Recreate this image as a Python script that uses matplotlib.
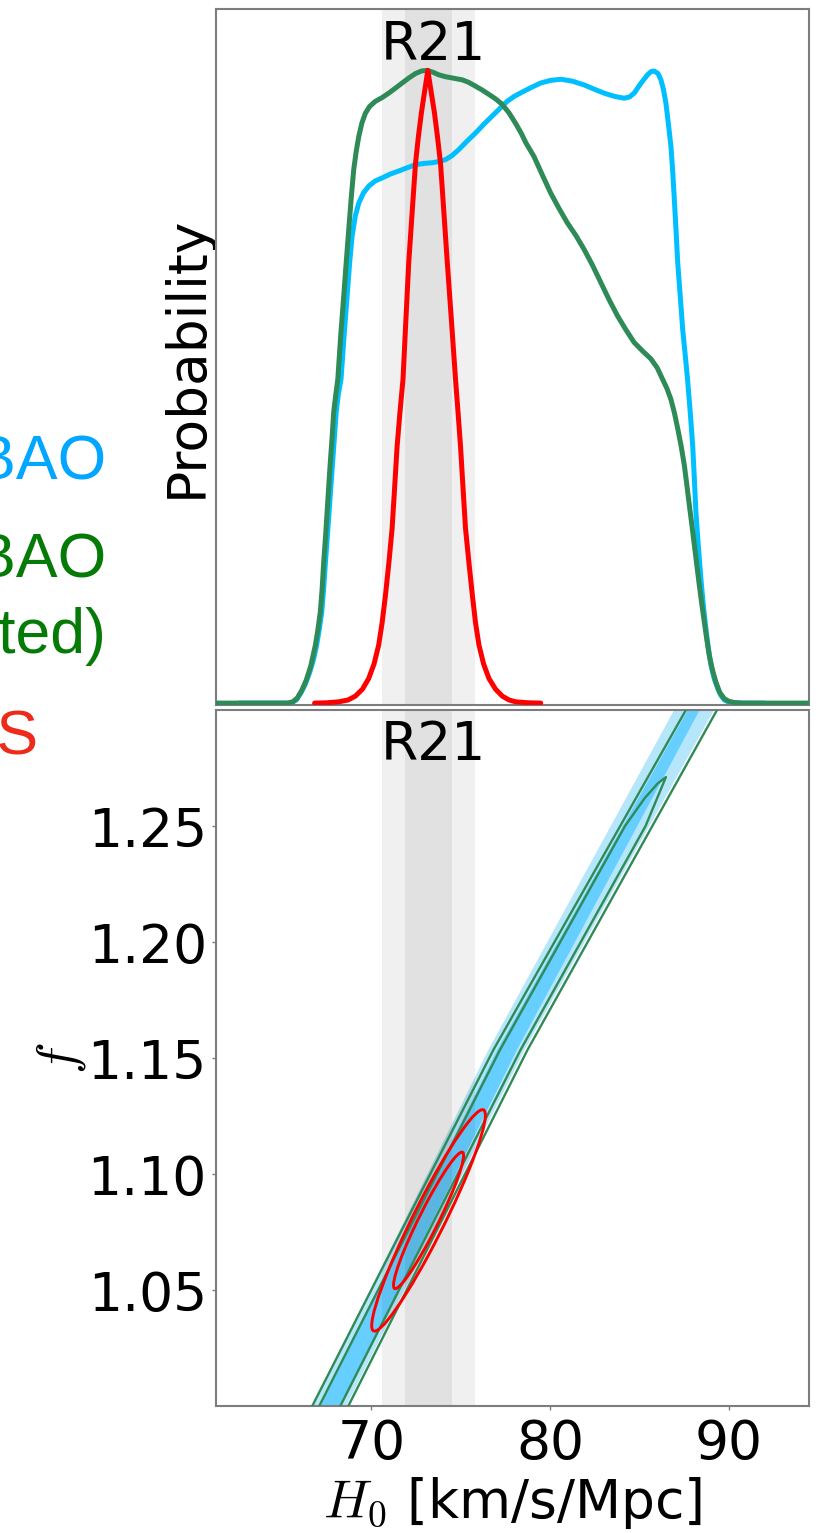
import numpy as np
import matplotlib
matplotlib.use("Agg")
import matplotlib.pyplot as plt
import matplotlib.transforms as mtransforms
from matplotlib.patches import Ellipse

plt.rcParams["mathtext.fontset"] = "cm"
plt.rcParams["font.family"] = ["DejaVu Sans"]

# ------------------------------------------------------------------ data
# 1D marginal posteriors of H0 (peak-normalised)
h0_cyan = [62.6, 65.5, 65.8, 66.05, 66.3, 66.55, 66.75, 66.93, 67.08, 67.22, 67.33,
           67.43, 67.53, 67.63, 67.73, 67.83, 67.93, 68.03, 68.15, 68.3, 68.47, 68.64,
           68.78, 68.92, 69.1, 69.29, 69.55, 69.85, 70.2, 70.6, 71.05, 71.53, 72.0,
           72.47, 72.95, 73.4, 73.8, 74.15, 74.5, 74.9, 75.35, 75.83, 76.3, 76.77,
           77.2, 77.6, 78.0, 78.4, 78.95, 79.48, 80.0, 80.6, 81.25, 81.91, 82.5,
           83.03, 83.6, 84.15, 84.45, 84.71, 85.1, 85.46, 85.65, 85.83, 86.05, 86.21,
           86.35, 86.49, 86.63, 86.77, 86.87, 86.95, 87.05, 87.15, 87.3, 87.43, 87.57,
           87.7, 87.85, 87.99, 88.08, 88.17, 88.3, 88.45, 88.6, 88.73, 88.87, 89.01,
           89.2, 89.39, 89.57, 89.76, 90.0, 90.3, 92.0]
p_cyan = [0.0, 0.0, 0.005, 0.016, 0.03, 0.049, 0.068, 0.091, 0.116, 0.144, 0.182,
          0.223, 0.262, 0.302, 0.342, 0.381, 0.42, 0.46, 0.488, 0.512, 0.58, 0.643,
          0.695, 0.738, 0.77, 0.79, 0.806, 0.817, 0.825, 0.83, 0.836, 0.841, 0.846,
          0.851, 0.853, 0.854, 0.856, 0.859, 0.865, 0.875, 0.888, 0.901, 0.915, 0.928,
          0.94, 0.951, 0.959, 0.965, 0.973, 0.98, 0.984, 0.986, 0.983, 0.977, 0.97,
          0.964, 0.959, 0.956, 0.958, 0.964, 0.98, 0.993, 0.998, 0.999, 0.995, 0.985,
          0.97, 0.948, 0.915, 0.88, 0.84, 0.801, 0.75, 0.696, 0.64, 0.59, 0.55,
          0.512, 0.46, 0.406, 0.355, 0.301, 0.25, 0.196, 0.15, 0.117, 0.086, 0.06,
          0.038, 0.023, 0.012, 0.005, 0.0015, 0.0, 0.0]

h0_green = [61.0, 65.3, 65.6, 65.85, 66.1, 66.35, 66.6, 66.86, 67.0, 67.14, 67.24,
            67.33, 67.43, 67.52, 67.61, 67.7, 67.8, 67.89, 68.0, 68.12, 68.28, 68.45,
            68.6, 68.73, 68.87, 69.01, 69.15, 69.29, 69.47, 69.66, 69.9, 70.22, 70.6,
            70.97, 71.35, 71.72, 72.1, 72.47, 72.8, 73.12, 73.45, 73.77, 74.15, 74.53,
            75.09, 75.45, 75.83, 76.2, 76.58, 76.95, 77.3, 77.7, 78.1, 78.4, 78.64,
            79.1, 79.55, 80.04, 80.5, 80.97, 81.45, 81.91, 82.38, 82.84, 83.3, 83.78,
            84.25, 84.71, 85.2, 85.65, 86.0, 86.3, 86.55, 86.77, 86.97, 87.15, 87.35,
            87.52, 87.66, 87.8, 87.94, 88.08, 88.22, 88.36, 88.5, 88.64, 88.78, 88.92,
            89.1, 89.29, 89.5, 89.76, 90.0, 90.3, 90.8, 95.0]
p_green = [0.0, 0.0, 0.002, 0.008, 0.02, 0.036, 0.058, 0.091, 0.115, 0.144, 0.18,
           0.223, 0.262, 0.302, 0.342, 0.381, 0.42, 0.46, 0.486, 0.512, 0.58, 0.643,
           0.7, 0.748, 0.798, 0.843, 0.872, 0.895, 0.917, 0.932, 0.943, 0.951, 0.957,
           0.964, 0.972, 0.98, 0.988, 0.995, 0.999, 1.0, 0.997, 0.993, 0.99, 0.988,
           0.985, 0.981, 0.975, 0.969, 0.962, 0.955, 0.947, 0.933, 0.915, 0.9, 0.886,
           0.864, 0.836, 0.806, 0.782, 0.759, 0.739, 0.717, 0.692, 0.665, 0.638, 0.612,
           0.59, 0.57, 0.556, 0.544, 0.53, 0.512, 0.497, 0.48, 0.458, 0.434, 0.405,
           0.376, 0.345, 0.313, 0.282, 0.25, 0.218, 0.186, 0.156, 0.128, 0.1, 0.075,
           0.052, 0.033, 0.017, 0.007, 0.003, 0.001, 0.0, 0.0]

h0_red = [66.82, 67.5, 68.17, 68.7, 69.1, 69.5, 69.85, 70.15, 70.41, 70.6, 70.79,
          70.98, 71.16, 71.3, 71.44, 71.6, 71.77, 71.93, 72.09, 72.28, 72.47, 72.63,
          72.8, 72.98, 73.16, 73.34, 73.53, 73.7, 73.87, 74.06, 74.25, 74.48, 74.71,
          74.85, 74.99, 75.13, 75.27, 75.46, 75.65, 75.83, 76.02, 76.28, 76.58, 76.95,
          77.33, 77.7, 78.08, 78.8, 79.48]
p_red = [0.0, 0.0005, 0.002, 0.005, 0.011, 0.022, 0.039, 0.062, 0.092, 0.127, 0.171,
         0.222, 0.276, 0.34, 0.406, 0.46, 0.512, 0.605, 0.696, 0.775, 0.853, 0.895,
         0.933, 0.967, 1.0, 0.967, 0.933, 0.895, 0.853, 0.775, 0.696, 0.605, 0.512,
         0.46, 0.406, 0.34, 0.276, 0.222, 0.171, 0.127, 0.092, 0.062, 0.039, 0.022,
         0.011, 0.005, 0.002, 0.0005, 0.0]

# R21 local measurement
r21_mean = 73.2
r21_sigma = 1.3

# 2D credible regions: H0 edges of the narrow H0-f bands at given f
band_f = [1.0, 1.1535, 1.3]
cyan95_left = [66.75, 76.55, 86.95]
cyan95_right = [68.60, 78.57, 89.18]
cyan68_left = [67.15, 77.05, 87.72]
cyan68_right = [68.30, 78.15, 88.38]
green95_left = [66.69, 76.83, 87.61]
green95_right = [68.71, 78.74, 89.35]
green68_f = [1.0, 1.1535, 1.25, 1.262, 1.2685, 1.2711, 1.25, 1.1535, 1.0]
green68_h0 = [67.08, 77.20, 84.2, 85.3, 86.05, 86.49, 85.35, 78.35, 68.26]

# red (local) Gaussian posterior in (H0, f)
red_mean = (73.2, 1.080)
red_sigma = (1.3, 0.0195)
red_rho = 0.95
red_levels = [0.68, 0.95]

# labels
legend_labels = ["SN + BAO", "SN + BAO", "(weighted)", "SH0ES"]
legend_colors = ["#00A6FF", "#067A06", "#067A06", "#EE2A1B"]
y_ticks = [1.05, 1.10, 1.15, 1.20, 1.25]
x_ticks = [70, 80, 90]

# ------------------------------------------------------------------ figure
W, H = 821, 1533
fig = plt.figure(figsize=(W / 100, H / 100), dpi=100)


def box(l, t, r, b):
    return [l / W, 1 - b / H, (r - l) / W, (b - t) / H]


ax1 = fig.add_axes(box(216, 9, 809, 705))
ax2 = fig.add_axes(box(216, 710, 809, 1406))

xlim = (61.3, 94.5)
FS = 38.5
spine_c = "#7d7d7d"

# ---------------- top panel
for lo, hi in [(r21_mean - 2 * r21_sigma, r21_mean + 2 * r21_sigma),
               (r21_mean - r21_sigma, r21_mean + r21_sigma)]:
    ax1.axvspan(lo, hi, color="k", alpha=0.06, lw=0, zorder=0.5)

lkw = dict(lw=3.6, solid_joinstyle="round", solid_capstyle="round")
ax1.plot(h0_cyan, p_cyan, color="#00BFFF", zorder=2, **lkw)
ax1.plot(h0_green, p_green, color="#2E8B57", zorder=3, **lkw)
ax1.plot(h0_red, p_red, color="red", zorder=4, **lkw)
ax1.set_xlim(*xlim)
ax1.set_ylim(-0.003, 1.097)
ax1.set_xticks([])
ax1.set_yticks([])
ax1.set_ylabel("Probability", fontsize=FS)
ax1.yaxis.set_label_coords(-0.006, 0.5)
tr1 = mtransforms.blended_transform_factory(ax1.transData, ax1.transAxes)
ax1.text(73.5, 0.927, "R21", transform=tr1, ha="center", va="baseline", fontsize=FS)

# ---------------- bottom panel
ax2.fill(cyan95_left + cyan95_right[::-1], band_f + band_f[::-1],
         color="#B6E6FA", lw=0, zorder=1)
ax2.fill(cyan68_left + cyan68_right[::-1], band_f + band_f[::-1],
         color="#66CFFF", lw=0, zorder=1.1)
for lo, hi in [(r21_mean - 2 * r21_sigma, r21_mean + 2 * r21_sigma),
               (r21_mean - r21_sigma, r21_mean + r21_sigma)]:
    ax2.axvspan(lo, hi, color="k", alpha=0.06, lw=0, zorder=1.5)

gkw = dict(color="#2E8B57", lw=1.7, zorder=3, solid_joinstyle="round")
ax2.plot(green95_left, band_f, **gkw)
ax2.plot(green95_right, band_f, **gkw)
ax2.plot(green68_h0, green68_f, **gkw)

sx, sf = red_sigma
cov = np.array([[sx ** 2, red_rho * sx * sf], [red_rho * sx * sf, sf ** 2]])
vals, vecs = np.linalg.eigh(cov)
order = vals.argsort()[::-1]
vals, vecs = vals[order], vecs[:, order]
angle = np.degrees(np.arctan2(vecs[1, 0], vecs[0, 0]))
for lev in red_levels:
    k = np.sqrt(-2 * np.log(1 - lev))
    ax2.add_patch(Ellipse(red_mean, 2 * k * np.sqrt(vals[0]), 2 * k * np.sqrt(vals[1]),
                          angle=angle, fill=False, ec="red", lw=2.1, zorder=4))

ax2.set_xlim(*xlim)
ax2.set_ylim(1.0, 1.3)
ax2.set_xticks(x_ticks)
ax2.set_yticks(y_ticks)
ax2.set_yticklabels([f"{v:.2f}" for v in y_ticks])
ax2.tick_params(axis="both", direction="out", length=2.6, width=1.0, color=spine_c,
                labelsize=FS)
ax2.tick_params(axis="y", pad=4)
ax2.tick_params(axis="x", pad=6)
ax2.set_xlabel(r"$H_0$ [km/s/Mpc]", fontsize=FS)
ax2.xaxis.set_label_coords(0.5, -0.161)
ax2.xaxis.label.set_va("baseline")
ax2.set_ylabel(r"$f$", fontsize=FS)
ax2.yaxis.label.set_va("center")
ax2.yaxis.set_label_coords(-0.262, 0.5)
tr2 = mtransforms.blended_transform_factory(ax2.transData, ax2.transAxes)
ax2.text(73.5, 0.928, "R21", transform=tr2, ha="center", va="baseline", fontsize=FS)

for ax in (ax1, ax2):
    for s in ax.spines.values():
        s.set_color(spine_c)
        s.set_linewidth(1.5)

# ---------------- side labels (partly outside the figure, as in the source)
label_pos = [(106, 480), (106, 578), (106, 653), (38, 755)]
for txt, col, (px, py) in zip(legend_labels, legend_colors, label_pos):
    fig.text(px / W, 1 - py / H, txt, color=col, fontsize=45,
             family=["Liberation Sans", "DejaVu Sans"], ha="right", va="baseline")

fig.savefig("out.png", dpi=100)
